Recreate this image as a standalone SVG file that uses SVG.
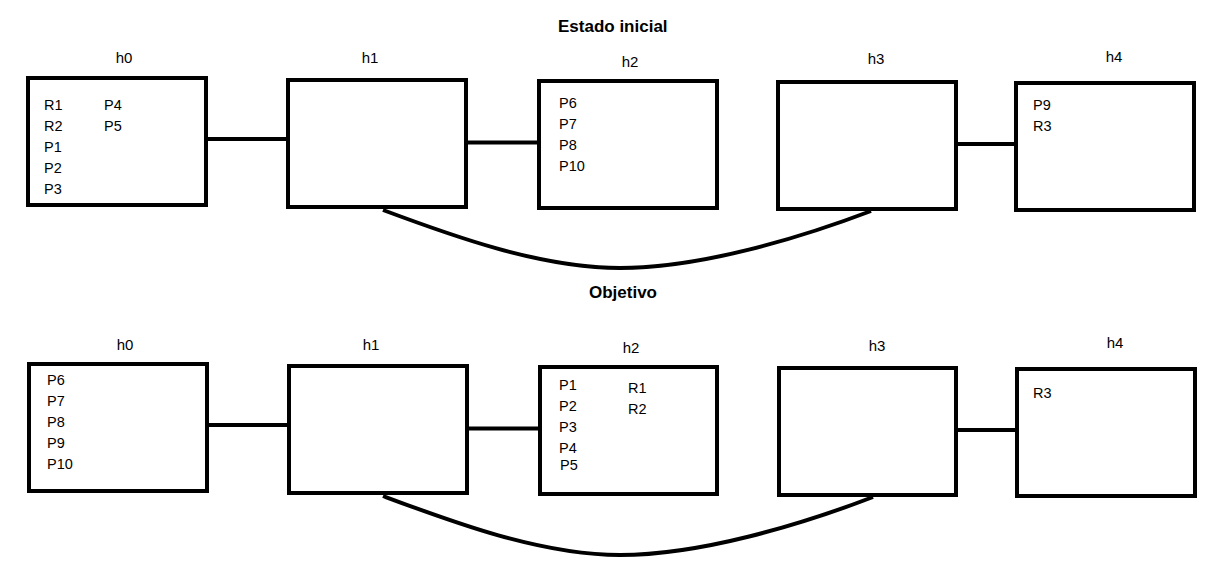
<svg xmlns="http://www.w3.org/2000/svg" width="1209" height="583" viewBox="0 0 1209 583">
<style>
.box{fill:#fff;stroke:#000;stroke-width:4}
.edge{fill:none;stroke:#000;stroke-width:4}
.t{font-family:"Liberation Sans",Arial,sans-serif;font-size:14.5px;fill:#000}
.lbl{font-family:"Liberation Sans",Arial,sans-serif;font-size:15px;fill:#000;text-anchor:middle}
.title{font-family:"Liberation Sans",Arial,sans-serif;font-size:17px;font-weight:bold;fill:#000}
</style>
<rect width="1209" height="583" fill="#fff"/>
<text class="title" x="558" y="32">Estado inicial</text>
<text class="title" x="589" y="298">Objetivo</text>
<g id="connectors">
<line class="edge" x1="208" y1="139" x2="287" y2="139"/>
<line class="edge" x1="468" y1="142.5" x2="538" y2="142.5"/>
<line class="edge" x1="958" y1="144" x2="1015" y2="144"/>
<path class="edge" d="M383,210 C450,235 540,268 620,268 C700,268 800,238 871,211"/>
<line class="edge" x1="209" y1="425" x2="288" y2="425"/>
<line class="edge" x1="469" y1="428.5" x2="539" y2="428.5"/>
<line class="edge" x1="958" y1="430" x2="1016" y2="430"/>
<path class="edge" d="M383,496 C450,521 540,555 620,555 C700,555 800,525 873,497"/>
</g>
<g id="top-h0">
<text class="lbl" x="124" y="63">h0</text>
<rect class="box" x="28" y="78" width="178" height="127"/>
<text class="t" x="44" y="110">R1</text>
<text class="t" x="44" y="131">R2</text>
<text class="t" x="44" y="152">P1</text>
<text class="t" x="44" y="173">P2</text>
<text class="t" x="44" y="194">P3</text>
<text class="t" x="104" y="110">P4</text>
<text class="t" x="104" y="131">P5</text>
</g>
<g id="top-h1">
<text class="lbl" x="370" y="63">h1</text>
<rect class="box" x="288" y="80" width="178" height="127"/>
</g>
<g id="top-h2">
<text class="lbl" x="630" y="67">h2</text>
<rect class="box" x="539" y="81" width="178" height="127"/>
<text class="t" x="559" y="108">P6</text>
<text class="t" x="559" y="129">P7</text>
<text class="t" x="559" y="150">P8</text>
<text class="t" x="559" y="171">P10</text>
</g>
<g id="top-h3">
<text class="lbl" x="876" y="64">h3</text>
<rect class="box" x="778" y="82" width="178" height="127"/>
</g>
<g id="top-h4">
<text class="lbl" x="1114" y="62">h4</text>
<rect class="box" x="1016" y="83" width="178" height="127"/>
<text class="t" x="1033" y="110">P9</text>
<text class="t" x="1033" y="131">R3</text>
</g>
<g id="goal-h0">
<text class="lbl" x="125" y="350">h0</text>
<rect class="box" x="29" y="364" width="178" height="127"/>
<text class="t" x="47" y="385">P6</text>
<text class="t" x="47" y="406">P7</text>
<text class="t" x="47" y="427">P8</text>
<text class="t" x="47" y="448">P9</text>
<text class="t" x="47" y="469">P10</text>
</g>
<g id="goal-h1">
<text class="lbl" x="371" y="350">h1</text>
<rect class="box" x="289" y="366" width="178" height="127"/>
</g>
<g id="goal-h2">
<text class="lbl" x="631" y="353">h2</text>
<rect class="box" x="540" y="367" width="177" height="127"/>
<text class="t" x="559" y="390">P1</text>
<text class="t" x="559" y="411">P2</text>
<text class="t" x="559" y="432">P3</text>
<text class="t" x="559" y="453">P4</text>
<text class="t" x="560" y="470">P5</text>
<text class="t" x="628" y="393">R1</text>
<text class="t" x="628" y="414">R2</text>
</g>
<g id="goal-h3">
<text class="lbl" x="877" y="351">h3</text>
<rect class="box" x="779" y="368" width="177" height="127"/>
</g>
<g id="goal-h4">
<text class="lbl" x="1115" y="348">h4</text>
<rect class="box" x="1017" y="369" width="178" height="127"/>
<text class="t" x="1033" y="398">R3</text>
</g>
</svg>
